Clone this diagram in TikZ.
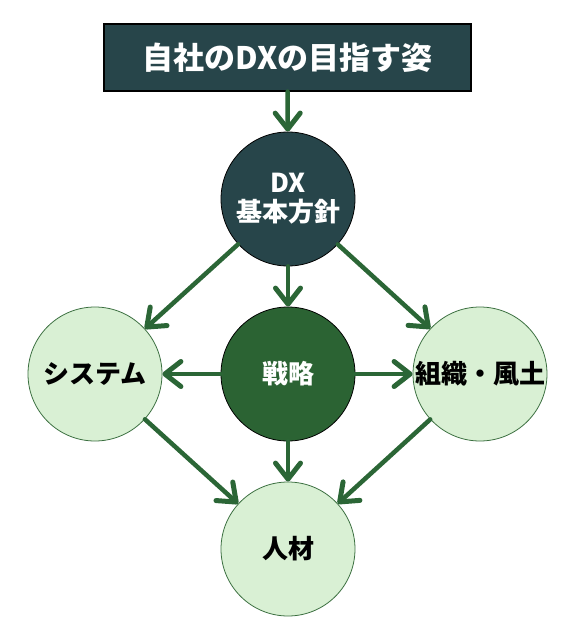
\documentclass[tikz,border=0pt]{standalone}
\usepackage{fontspec}
\setmainfont{Noto Sans CJK JP}
\usetikzlibrary{arrows.meta}
\definecolor{navy}{HTML}{27454A}
\definecolor{strat}{HTML}{2B6333}
\definecolor{lightg}{HTML}{D9F0D4}
\definecolor{lineg}{HTML}{3B6F40}
\definecolor{arrowg}{HTML}{2B6636}
\begin{document}
\begin{tikzpicture}[x=1pt,y=-1pt,
  bubble/.style={circle, minimum size=134pt, inner sep=0pt},
  lightbubble/.style={bubble, draw=lineg, line width=0.8pt, fill=lightg},
  txt/.style={font=\fontsize{26}{29}\selectfont\bfseries, align=center, inner sep=0pt},
  conn/.style={draw=arrowg, line width=4.5pt, line cap=round,
    -{Straight Barb[length=16pt, width=25pt, line width=5pt, round]}}
  ]
  \useasboundingbox (0,0) rectangle (579,637);
  \node[draw=black, line width=1.2pt, fill=navy, minimum width=367pt, minimum height=67pt, inner sep=0pt,
        text=white, font=\fontsize{31}{33}\selectfont\bfseries] (goal) at (287.5,57.5) {自社のDXの目指す姿};
  \node[bubble, draw=black, line width=0.8pt, fill=navy,
        label={[txt, text=white]center:DX\\基本方針}] (dx) at (288,199) {};
  \node[bubble, draw=black, line width=0.8pt, fill=strat,
        label={[txt, text=white]center:戦略}] (st) at (288,374) {};
  \node[lightbubble, label={[txt]center:システム}] (sys) at (95,374) {};
  \node[lightbubble, label={[txt]center:組織・風土}] (org) at (480,374) {};
  \node[lightbubble, label={[txt]center:人材}] (hr) at (288,549) {};
  \draw[conn] (goal) -- (dx);
  \draw[conn] (dx) -- (sys);
  \draw[conn] (dx) -- (st);
  \draw[conn] (dx) -- (org);
  \draw[conn] (st) -- (sys);
  \draw[conn] (st) -- (org);
  \draw[conn] (st) -- (hr);
  \draw[conn] (sys) -- (hr);
  \draw[conn] (org) -- (hr);
\end{tikzpicture}
\end{document}
